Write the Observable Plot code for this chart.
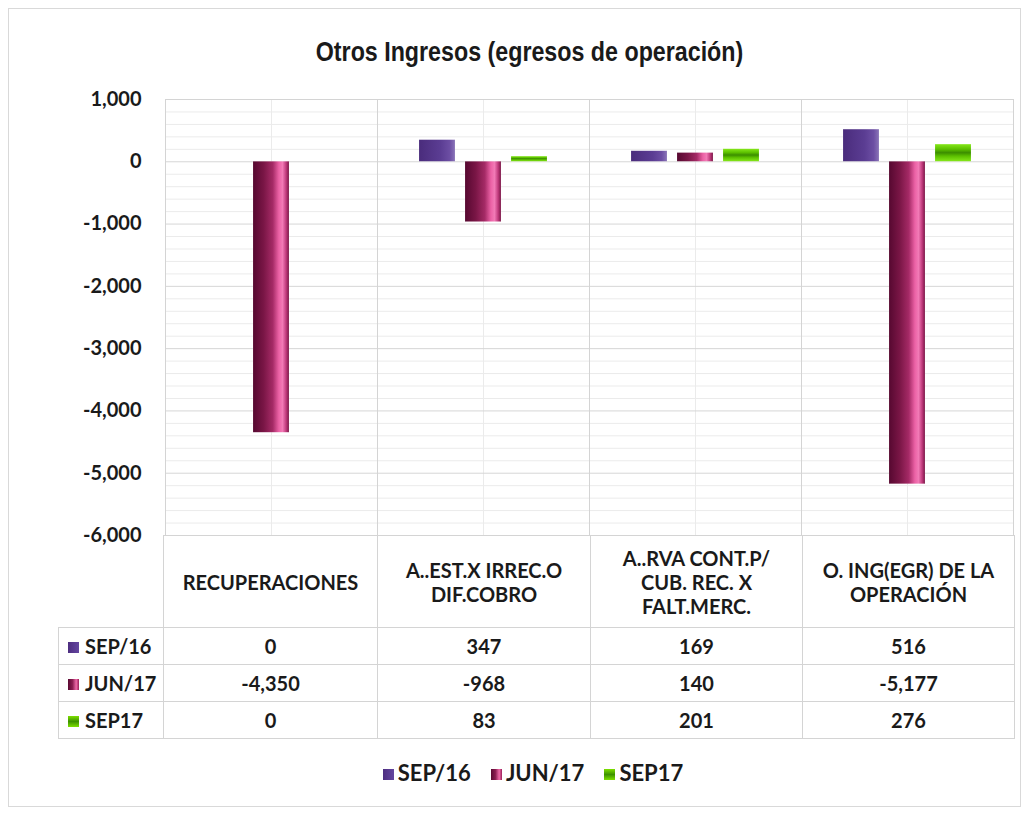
<!DOCTYPE html>
<html><head><meta charset="utf-8">
<script src="https://cdn.jsdelivr.net/npm/d3@7"></script>
<script src="https://cdn.jsdelivr.net/npm/@observablehq/plot@0.6"></script>
<style>
  html, body { margin: 0; padding: 0; background: #fff; }
  body { width: 1031px; height: 816px; position: relative; overflow: hidden; }
  #frame { position: absolute; left: 8px; top: 8px; width: 1013px; height: 799px; border: 1px solid #d9d9d9; box-sizing: border-box; }
  #title { position: absolute; top: 38px; left: 0; width: 1059px; text-align: center; font-family: "Liberation Sans", Arial, sans-serif; font-weight: bold; font-size: 28px; line-height: 28px; color: #1a1a1a; }
  #title span { display: inline-block; transform: scaleX(0.83); transform-origin: 50% 50%; }
  #chart { position: absolute; left: 0; top: 80px; }
  #tbl { position: absolute; left: 58px; top: 535px; border-collapse: collapse; font-family: Lato, sans-serif; font-weight: bold; font-size: 20px; color: #1a1a1a; table-layout: fixed; }
  #tbl td { border: 1px solid #d4d4d4; text-align: center; padding: 0; }
  #tbl td.corner { border-top: none; border-left: none; border-bottom: 1px solid #d4d4d4; }
  #tbl td.rowlab { text-align: left; padding-left: 9px; white-space: nowrap; }
  #tbl tr.hdr td { height: 91px; line-height: 24px; }
  #tbl tr.val td { height: 36px; }
  .mk { display: inline-block; width: 11px; height: 11px; margin-right: 6px; vertical-align: 1px; }
  #legend { position: absolute; top: 759px; left: 0; width: 1066px; text-align: center; font-family: Lato, sans-serif; font-weight: bold; font-size: 22px; color: #1a1a1a; }
  #legend span.item { margin: 0 10px; }
  #legend .mk { margin-right: 4px; }
</style>
</head><body>
<div id="frame"></div>
<div id="title"><span>Otros Ingresos (egresos de operación)</span></div>
<div id="chart"></div>
<table id="tbl"></table>
<div id="legend"></div>
<script>
// ---- data ----
const categories = ["RECUPERACIONES", "A..EST.X IRREC.O DIF.COBRO", "A..RVA CONT.P/ CUB. REC. X FALT.MERC.", "O. ING(EGR) DE LA OPERACIÓN"];
const categoryLines = [["RECUPERACIONES"], ["A..EST.X IRREC.O", "DIF.COBRO"], ["A..RVA CONT.P/", "CUB. REC. X", "FALT.MERC."], ["O. ING(EGR) DE LA", "OPERACIÓN"]];
const series = ["SEP/16", "JUN/17", "SEP17"];
const sep16 = [0, 347, 169, 516];
const jun17 = [-4350, -968, 140, -5177];
const sep17 = [0, 83, 201, 276];
const yTicks = [1000, 0, -1000, -2000, -3000, -4000, -5000, -6000];

const valuesBySeries = {"SEP/16": sep16, "JUN/17": jun17, "SEP17": sep17};
const rows = [];
categories.forEach((c, i) => series.forEach(s => rows.push({cat: c, series: s, value: valuesBySeries[s][i]})));
const minorTicks = d3.range(-6000, 1001, 200).filter(v => v % 1000 !== 0);
const fills = ["url(#gSep16)", "url(#gJun17)", "url(#gSep17)"];
const cssFills = [
  "linear-gradient(90deg,#4d2e80,#6446a0)",
  "linear-gradient(90deg,#5a0a32,#8a1c50 40%,#ee6aa8 75%,#9a2058)",
  "linear-gradient(180deg,#7ee000,#3d9200 50%,#7ee000)"
];
const fmt = v => d3.format(",")(v).replace("\u2212", "-");

const chart = Plot.plot({
  width: 1031,
  height: 457,
  marginLeft: 163,
  marginRight: 17,
  marginTop: 19,
  marginBottom: 2,
  fx: {domain: categories, padding: 0, axis: null},
  x: {domain: series, paddingInner: 0.213, paddingOuter: 0.87, axis: null},
  y: {domain: [-6000, 1000], axis: null},
  color: {domain: series, range: fills},
  style: {background: "transparent", overflow: "visible"},
  marks: [
    Plot.ruleY(minorTicks, {stroke: "#ebebeb", strokeWidth: 1}),
    Plot.ruleX(["JUN/17"], {stroke: "#ebebeb", strokeWidth: 1}),
    Plot.ruleY(yTicks, {stroke: "#d6d6d6", strokeWidth: 1}),
    Plot.frame({stroke: "#d4d4d4"}),
    Plot.barY(rows, {fx: "cat", x: "series", y: "value", fill: "series", stroke: "#ffffff", strokeOpacity: 0.25, strokeWidth: 0.5}),
    Plot.axisY({ticks: yTicks, tickFormat: fmt, label: null, tickSize: 0, tickPadding: 24, fontSize: 20, fontWeight: "bold", fontFamily: "Lato, sans-serif", fill: "#1a1a1a"})
  ]
});

// gradients
const ns = "http://www.w3.org/2000/svg";
const defs = document.createElementNS(ns, "defs");
function grad(id, vertical, stops) {
  const g = document.createElementNS(ns, "linearGradient");
  g.setAttribute("id", id);
  g.setAttribute("x1", "0"); g.setAttribute("y1", "0");
  g.setAttribute("x2", vertical ? "0" : "1"); g.setAttribute("y2", vertical ? "1" : "0");
  stops.forEach(([o, c]) => {
    const s = document.createElementNS(ns, "stop");
    s.setAttribute("offset", o); s.setAttribute("stop-color", c);
    g.appendChild(s);
  });
  defs.appendChild(g);
}
grad("gSep16", false, [["0", "#4a2c7c"], ["0.6", "#5b3d93"], ["0.85", "#6c4ea3"], ["1", "#8a74b8"]]);
grad("gJun17", false, [["0", "#560830"], ["0.3", "#7a1646"], ["0.55", "#a52a66"], ["0.72", "#ec62a6"], ["0.82", "#f27ab6"], ["0.92", "#c03a7c"], ["1", "#7a1646"]]);
grad("gSep17", true, [["0", "#86e81a"], ["0.3", "#5cc000"], ["0.5", "#3c8e00"], ["0.7", "#5cc000"], ["1", "#86e81a"]]);
chart.insertBefore(defs, chart.firstChild);
document.getElementById("chart").appendChild(chart);

// data table
const tbl = document.getElementById("tbl");
const colW = [105, 214, 213, 212, 212];
const cg = document.createElement("colgroup");
colW.forEach(w => { const c = document.createElement("col"); c.style.width = w + "px"; cg.appendChild(c); });
tbl.appendChild(cg);
const hdr = document.createElement("tr"); hdr.className = "hdr";
const corner = document.createElement("td"); corner.className = "corner"; hdr.appendChild(corner);
categoryLines.forEach(lines => { const td = document.createElement("td"); td.innerHTML = lines.join("<br>"); hdr.appendChild(td); });
tbl.appendChild(hdr);
series.forEach((s, si) => {
  const tr = document.createElement("tr"); tr.className = "val";
  const lab = document.createElement("td"); lab.className = "rowlab";
  lab.innerHTML = `<span class="mk" style="background:${cssFills[si]}"></span>${s}`;
  tr.appendChild(lab);
  valuesBySeries[s].forEach(v => { const td = document.createElement("td"); td.textContent = fmt(v); tr.appendChild(td); });
  tbl.appendChild(tr);
});

// legend
const leg = document.getElementById("legend");
leg.innerHTML = series.map((s, i) => `<span class="item"><span class="mk" style="background:${cssFills[i]}"></span>${s}</span>`).join("");
</script>
</body></html>
